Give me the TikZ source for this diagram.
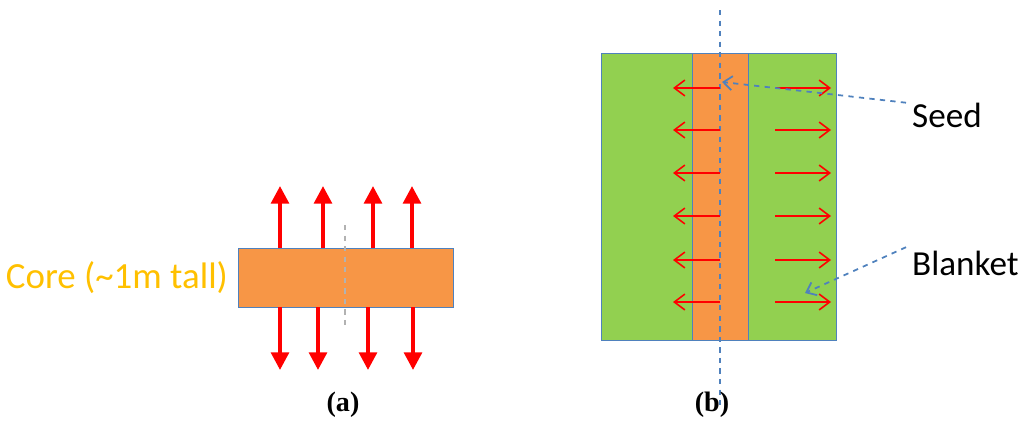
\documentclass[tikz,border=0pt]{standalone}
\usepackage{fontspec}
\setmainfont{Carlito}
\newfontfamily\capfont{Liberation Serif}
\usepackage{tikz}
\usetikzlibrary{positioning, arrows.meta}
\definecolor{coreorange}{HTML}{F79646}
\definecolor{blanketgreen}{HTML}{92D050}
\definecolor{edgeblue}{HTML}{4F81BD}
\definecolor{labelgold}{HTML}{FFC000}
\tikzset{
  flux/.style={draw=red, line width=2.2pt, -{Triangle[length=10pt,width=10pt]}},
  thinflux/.style={draw=red, line width=0.9pt, -{Straight Barb[length=6pt,width=9pt]}},
  pointer/.style={draw=edgeblue, dashed, line width=1pt, -{Straight Barb[length=5pt,width=8pt]}},
  axis/.style={dashed, line width=0.7pt},
  lbl/.style={font=\fontsize{20}{24}\selectfont},
  subcap/.style={font=\capfont\bfseries\fontsize{16}{18}\selectfont}
}
\begin{document}
\begin{tikzpicture}[x=0.02cm,y=-0.02cm]
  \useasboundingbox (0,0) rectangle (1024,430);
  % (a) core
  \node[draw=edgeblue, fill=coreorange, minimum width=4.3cm, minimum height=1.18cm, inner sep=0pt] (core) at (345.5,277.5) {};
  \node[lbl, font=\fontsize{21}{24}\selectfont, text=labelgold, left=2pt of core] (corelbl) {Core (\textasciitilde1m tall)};
  \draw[axis, gray!60] (345,225) -- (345,330);
  \foreach \x in {280,323,373,412}
    \draw[flux] (\x,248) -- (\x,186);
  \foreach \x in {280,318,368,413}
    \draw[flux] (\x,307) -- (\x,370);
  \node[subcap] (capa) at (343,405) {(a)};
  % (b) seed and blanket
  \node[draw=edgeblue, fill=blanketgreen, minimum width=4.7cm, minimum height=5.74cm, inner sep=0pt] (blanket) at (718.5,196.5) {};
  \node[draw=edgeblue, fill=coreorange, minimum width=1.12cm, minimum height=5.74cm, inner sep=0pt] (seed) at (720,196.5) {};
  \draw[axis, edgeblue] (720,10) -- (720,410);
  \foreach \y in {88,130,173,216,260,302} {
    \draw[thinflux] (720,\y) -- (673,\y);
    \draw[thinflux] (775,\y) -- (831,\y);
  }
  \node[lbl, anchor=west] (seedlbl) at (906,115) {Seed};
  \node[lbl, anchor=west] (blanketlbl) at (906,263) {Blanket};
  \coordinate (seedtip) at (722,82);
  \coordinate (blankettip) at (805,293);
  \draw[pointer] ([yshift=7pt]seedlbl.west) -- (seedtip);
  \draw[pointer] ([yshift=9pt]blanketlbl.west) -- (blankettip);
  \node[subcap] (capb) at (712,405) {(b)};
\end{tikzpicture}
\end{document}
